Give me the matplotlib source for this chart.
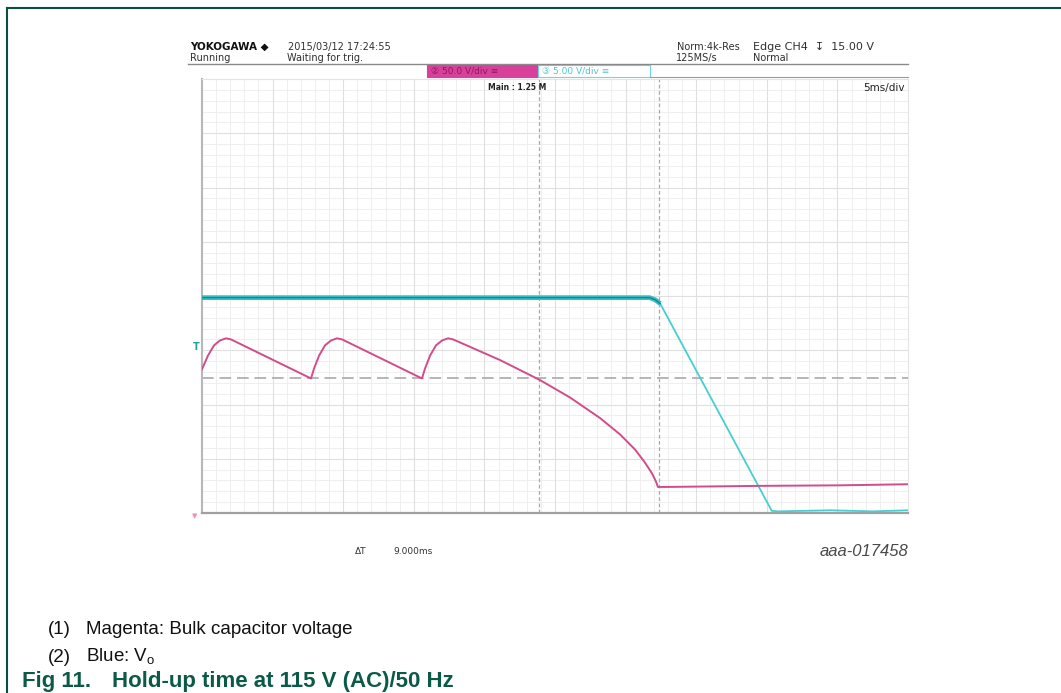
import matplotlib.pyplot as plt
from matplotlib.patches import Rectangle
from matplotlib.lines import Line2D
import numpy as np

# figure size in pixels
W, H = 1061, 693

# waveforms (time in ms from left edge, 5 ms/div)
bulk_t = [0, 0.42, 0.85, 1.27, 1.70, 2.05, 7.72, 7.93, 8.29, 8.71, 9.14, 9.56, 9.92,
          15.58, 15.79, 16.15, 16.57, 17.00, 17.42, 17.78, 21.10, 23.94, 26.06, 28.19,
          29.60, 30.67, 31.37, 31.87, 32.15, 32.29, 32.79, 39.52, 45.18, 50]
bulk_v = [132.5, 145, 154.5, 159, 161, 160, 124, 133, 145, 154.5, 159, 161, 160,
          124, 133, 145, 154.5, 159, 161, 160, 141, 122.5, 106.5, 87.5,
          72.5, 58.5, 46.5, 36.5, 29, 24, 24, 25, 25.5, 26.5]
vo_t = [0, 31.7, 32.1, 32.45, 40.35, 40.8, 44.5, 47.5, 50]
vo_v = [19.85, 19.85, 19.65, 19.3, 0.2, 0.15, 0.25, 0.15, 0.25]

bulk_scale = 50.0     # V/div
vo_scale = 5.0        # V/div
cursor_t = [23.9, 32.4]  # ms, delta T readout 9.000 ms
level_v = 124          # V, horizontal cursor on bulk channel

fig = plt.figure(figsize=(W / 100, H / 100), dpi=100)


def px(x, y):
    # pixel position -> figure fraction
    return x / W, 1 - y / H


def txt(x, y, s, **kw):
    fx, fy = px(x, y)
    fig.text(fx, fy, s, **kw)


def hline(x0, x1, y, **kw):
    fig.add_artist(Line2D([x0 / W, x1 / W], [1 - y / H, 1 - y / H], **kw))


# page frame (top and left rule)
hline(7, W, 8, color='#0b4f40', lw=1.5)
fig.add_artist(Line2D([7 / W, 7 / W], [0, 1 - 8 / H], color='#0b4f40', lw=1.5))

# scope plot area
left, right, top, bottom = 202, 908, 79, 513
ax = fig.add_axes([left / W, 1 - bottom / H, (right - left) / W, (bottom - top) / H])
ax.set_xlim(0, 50)
ax.set_ylim(0, 8)

# fine grid and division grid
for xv in np.arange(0, 50.01, 1):
    ax.axvline(xv, color='#ededed', lw=0.6, zorder=0)
for yv in np.arange(0, 8.01, 0.2):
    ax.axhline(yv, color='#ededed', lw=0.6, zorder=0)
for xv in np.arange(5, 50, 5):
    ax.axvline(xv, color='#e0e0e0', lw=0.8, zorder=0)
for yv in np.arange(1, 8, 1):
    ax.axhline(yv, color='#e0e0e0', lw=0.8, zorder=0)

# cursors
for ct in cursor_t:
    ax.axvline(ct, color='#a8a8a8', lw=0.9, ls=(0, (3, 2)), zorder=1)
ax.axhline(level_v / bulk_scale, color='#b5b5b5', lw=1.4, ls=(0, (6, 3)), zorder=1)

# traces
vo_div = np.array(vo_v) / vo_scale
bulk_div = np.array(bulk_v) / bulk_scale
ax.plot(vo_t[:4], vo_div[:4], color='#35c0c4', lw=3.4, solid_capstyle='butt', zorder=3)
ax.plot(vo_t[:4], vo_div[:4], color='#16878c', lw=1.0, zorder=4)
ax.plot(vo_t[3:], vo_div[3:], color='#45cfd2', lw=1.3, zorder=3)
ax.plot(bulk_t, bulk_div, color='#d24b8c', lw=1.4, zorder=3)

for s in ['top', 'right']:
    ax.spines[s].set_color('#e4e4e4')
    ax.spines[s].set_linewidth(0.8)
ax.spines['left'].set_color('#b8b8b8')
ax.spines['left'].set_linewidth(1.5)
ax.spines['bottom'].set_color('#a0a0a0')
ax.spines['bottom'].set_linewidth(1.6)
ax.set_xticks([])
ax.set_yticks([])

# trigger level and ground markers left of the grid
txt(193, 347, 'T', fontsize=7, color='#20a0a4', fontweight='bold', va='center')
txt(195, 516, '\u25bc', fontsize=5, color='#f08cb0', va='center', ha='center')

# scope header
hfont = dict(fontsize=7, color='#303030', va='center', family='DejaVu Sans')
txt(190, 47, 'YOKOGAWA \u25c6', fontsize=7.5, color='#111111', fontweight='bold', va='center')
txt(288, 47, '2015/03/12 17:24:55', **hfont)
txt(190, 58, 'Running', **hfont)
txt(287, 58, 'Waiting for trig.', **hfont)
txt(677, 47, 'Norm:4k-Res', **hfont)
txt(676, 58, '125MS/s', **hfont)
txt(753, 47, 'Edge CH4  \u21a7  15.00 V', fontsize=8, color='#303030', va='center', family='DejaVu Sans')
txt(753, 58, 'Normal', **hfont)
hline(188, right, 64, color='#8a8a8a', lw=1.0)
hline(650, right, 77, color='#9a9a9a', lw=0.8)

# channel boxes
fig.add_artist(Rectangle(px(427, 77), 111 / W, 12 / H, facecolor='#d8409c', edgecolor='#d8409c', lw=0.8))
fig.add_artist(Rectangle(px(538, 77), 112 / W, 12 / H, facecolor='white', edgecolor='#6fd6dc', lw=0.8))
txt(431, 71, '\u2461 50.0 V/div \u2261', fontsize=6.5, color='#8a1a5c', va='center')
txt(542, 71, '\u2462 5.00 V/div \u2261', fontsize=6.5, color='#4cc8d0', va='center')
txt(517, 88, 'Main : 1.25 M', fontsize=5.5, color='#222222', va='center', ha='center', fontweight='bold')
txt(905, 88, '5ms/div', fontsize=7.5, color='#222222', va='center', ha='right')

# cursor readout and figure id
txt(355, 552, '\u0394T', fontsize=6.5, color='#333333', va='center')
txt(393, 552, '9.000ms', fontsize=6.5, color='#333333', va='center')
txt(908, 552, 'aaa-017458', fontsize=12, color='#4a4a4a', style='italic', va='center', ha='right',
    family='Liberation Sans')

# caption
cfont = dict(fontsize=13.5, color='#111111', va='center', family='Liberation Sans')
txt(48, 630, '(1)', **cfont)
txt(86, 630, 'Magenta: Bulk capacitor voltage', **cfont)
txt(48, 657, '(2)', **cfont)
txt(86, 657, 'Blue: V$_\\mathregular{o}$', **cfont)
gfont = dict(fontsize=16, color='#0b5a48', fontweight='bold', va='center', family='Liberation Sans')
txt(22, 681, 'Fig 11.', **gfont)
txt(112, 681, 'Hold-up time at 115 V (AC)/50 Hz', **gfont)

plt.savefig('out.png', dpi=100)
